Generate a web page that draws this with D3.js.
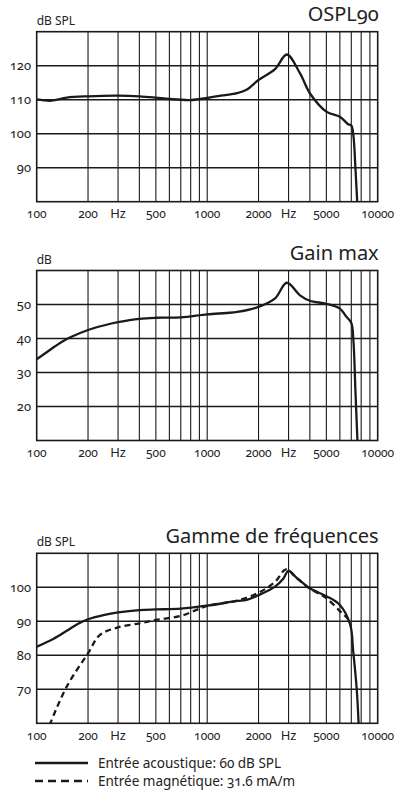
<!DOCTYPE html>
<html>
<head>
<meta charset="utf-8">
<script src="https://cdn.jsdelivr.net/npm/d3@7"></script>
<style>
  html, body { margin: 0; padding: 0; background: #fff; }
  svg { display: block; }
  text { font-family: "Noto Sans", "Open Sans", sans-serif; fill: #222; font-variant-numeric: oldstyle-nums; font-feature-settings: "onum" 1; }
</style>
</head>
<body>
<svg id="chart" width="395" height="794"></svg>
<script>
// Frequency axis (Hz)
const freqDomain = [100, 10000];
const freqGrid = [200, 300, 400, 500, 600, 700, 800, 900, 1000, 2000, 3000, 4000, 5000, 6000, 7000, 8000, 9000];
const freqTickValues = [100, 200, 300, 500, 1000, 2000, 3000, 5000, 10000];
const freqTickLabels = ["100", "200", "Hz", "500", "1000", "2000", "Hz", "5000", "10000"];

// OSPL90 (dB SPL)
const osplTicks = [90, 100, 110, 120];
const osplFreq  = [100, 122, 150, 200, 300, 400, 500, 600, 800, 1000, 1200, 1500, 1700, 2000, 2500, 2930, 3500, 4000, 5000, 6000, 6700, 7000, 7200, 7400, 7600];
const osplLevel = [110.1, 109.7, 110.6, 111.0, 111.2, 111.0, 110.6, 110.2, 109.9, 110.5, 111.2, 111.9, 112.9, 115.8, 119.0, 123.3, 117.8, 111.9, 106.5, 105.0, 102.8, 102.4, 99.5, 90, 79];

// Gain max (dB)
const gainTicks = [20, 30, 40, 50];
const gainFreq  = [100, 120, 140, 160, 200, 250, 300, 400, 500, 700, 1000, 1300, 1500, 2000, 2500, 2930, 3500, 4000, 5000, 6000, 6500, 7000, 7200, 7400, 7620];
const gainLevel = [33.9, 36.7, 39.0, 40.5, 42.5, 43.9, 44.8, 45.8, 46.1, 46.2, 47.1, 47.5, 47.8, 49.3, 51.8, 56.4, 52.7, 51.1, 50.2, 48.8, 46.6, 44.6, 39.5, 24.8, 9];

// Gamme de fréquences (dB SPL)
const rangeTicks = [70, 80, 90, 100];
const acousticFreq  = [100, 125, 150, 175, 200, 250, 300, 400, 500, 700, 1000, 1500, 1700, 2000, 2500, 2800, 3000, 3300, 4000, 5000, 6000, 6900, 7170, 7540, 7740];
const acousticLevel = [82.5, 84.8, 87.2, 89.3, 90.6, 91.9, 92.6, 93.3, 93.5, 93.7, 94.6, 96.0, 96.3, 97.7, 100.2, 102.6, 104.9, 103.1, 99.7, 97.4, 94.8, 89.0, 81.6, 69.8, 59];
const magneticFreq  = [119, 150, 200, 235, 300, 400, 500, 700, 1000, 1500, 2000, 2500, 2900, 3300, 4000, 5000, 6000, 6500, 6950];
const magneticLevel = [59.5, 70.8, 80.6, 86.0, 88.2, 89.4, 90.4, 91.6, 94.5, 96.1, 98.4, 101.6, 105.3, 103.0, 99.6, 96.8, 93.0, 91.4, 89.6];

const legendLabels = ["Entrée acoustique: 60 dB SPL", "Entrée magnétique: 31.6 mA/m"];

const panels = [
  { title: "OSPL90", unit: "dB SPL", top: 31.7, yDomain: [80, 130], yTicks: osplTicks,
    series: [{ f: osplFreq, v: osplLevel, dash: null }] },
  { title: "Gain max", unit: "dB", top: 270.5, yDomain: [10, 60], yTicks: gainTicks,
    series: [{ f: gainFreq, v: gainLevel, dash: null }] },
  { title: "Gamme de fréquences", unit: "dB SPL", top: 553.3, yDomain: [60, 110], yTicks: rangeTicks,
    series: [{ f: acousticFreq, v: acousticLevel, dash: null },
             { f: magneticFreq, v: magneticLevel, dash: "6,4" }] }
];

const left = 36.7, right = 377.7, plotH = 170;
const svg = d3.select("#chart");

const x = d3.scaleLog().domain(freqDomain).range([left, right]);

panels.forEach((p, i) => {
  const g = svg.append("g");
  const y = d3.scaleLinear().domain(p.yDomain).range([p.top + plotH, p.top]);

  const clipId = "clip" + i;
  svg.append("clipPath").attr("id", clipId)
    .append("rect").attr("x", left).attr("y", p.top).attr("width", right - left).attr("height", plotH);

  // vertical grid
  g.selectAll("line.vg").data(freqGrid).join("line")
    .attr("x1", d => x(d)).attr("x2", d => x(d))
    .attr("y1", p.top).attr("y2", p.top + plotH)
    .attr("stroke", "#1a1a1a").attr("stroke-width", 1.1);

  // horizontal grid
  g.selectAll("line.hg").data(p.yTicks).join("line")
    .attr("x1", left).attr("x2", right)
    .attr("y1", d => y(d)).attr("y2", d => y(d))
    .attr("stroke", "#1a1a1a").attr("stroke-width", 1.6);

  // frame
  g.append("rect").attr("x", left).attr("y", p.top).attr("width", right - left).attr("height", plotH)
    .attr("fill", "none").attr("stroke", "#1a1a1a").attr("stroke-width", 1.6);

  // y tick labels
  g.selectAll("text.yt").data(p.yTicks).join("text")
    .attr("x", 31).attr("y", d => y(d)).attr("dy", "0.35em")
    .attr("text-anchor", "end").attr("font-size", 13)
    .text(d => d);

  // x tick labels
  g.selectAll("text.xt").data(freqTickValues).join("text")
    .attr("x", d => x(d)).attr("y", p.top + plotH + 16.5)
    .attr("text-anchor", "middle").attr("font-size", (d, j) => freqTickLabels[j] === "Hz" ? 13 : 12)
    .text((d, j) => freqTickLabels[j]);

  // unit label and title
  g.append("text").attr("x", left).attr("y", p.top - 7).attr("font-size", 12).text(p.unit);
  g.append("text").attr("x", right + 1).attr("y", p.top - 10.5).attr("text-anchor", "end")
    .attr("font-size", 20).text(p.title);

  // response curves
  const line = d3.line().x(d => x(d[0])).y(d => y(d[1])).curve(d3.curveCatmullRom.alpha(0.5));
  p.series.forEach(s => {
    g.append("path")
      .datum(s.f.map((f, k) => [f, s.v[k]]))
      .attr("clip-path", `url(#${clipId})`)
      .attr("d", line)
      .attr("fill", "none").attr("stroke", "#1a1a1a").attr("stroke-width", 2.3)
      .attr("stroke-linejoin", "round")
      .attr("stroke-dasharray", s.dash);
  });
});

// legend
const legend = svg.append("g");
legendLabels.forEach((label, i) => {
  const ly = 763 + i * 18;
  legend.append("line").attr("x1", 35).attr("x2", 88).attr("y1", ly).attr("y2", ly)
    .attr("stroke", "#1a1a1a").attr("stroke-width", 2.5)
    .attr("stroke-dasharray", i === 1 ? "8,5" : null);
  legend.append("text").attr("x", 98).attr("y", ly + 5).attr("font-size", 13.5).text(label);
});
</script>
</body>
</html>
